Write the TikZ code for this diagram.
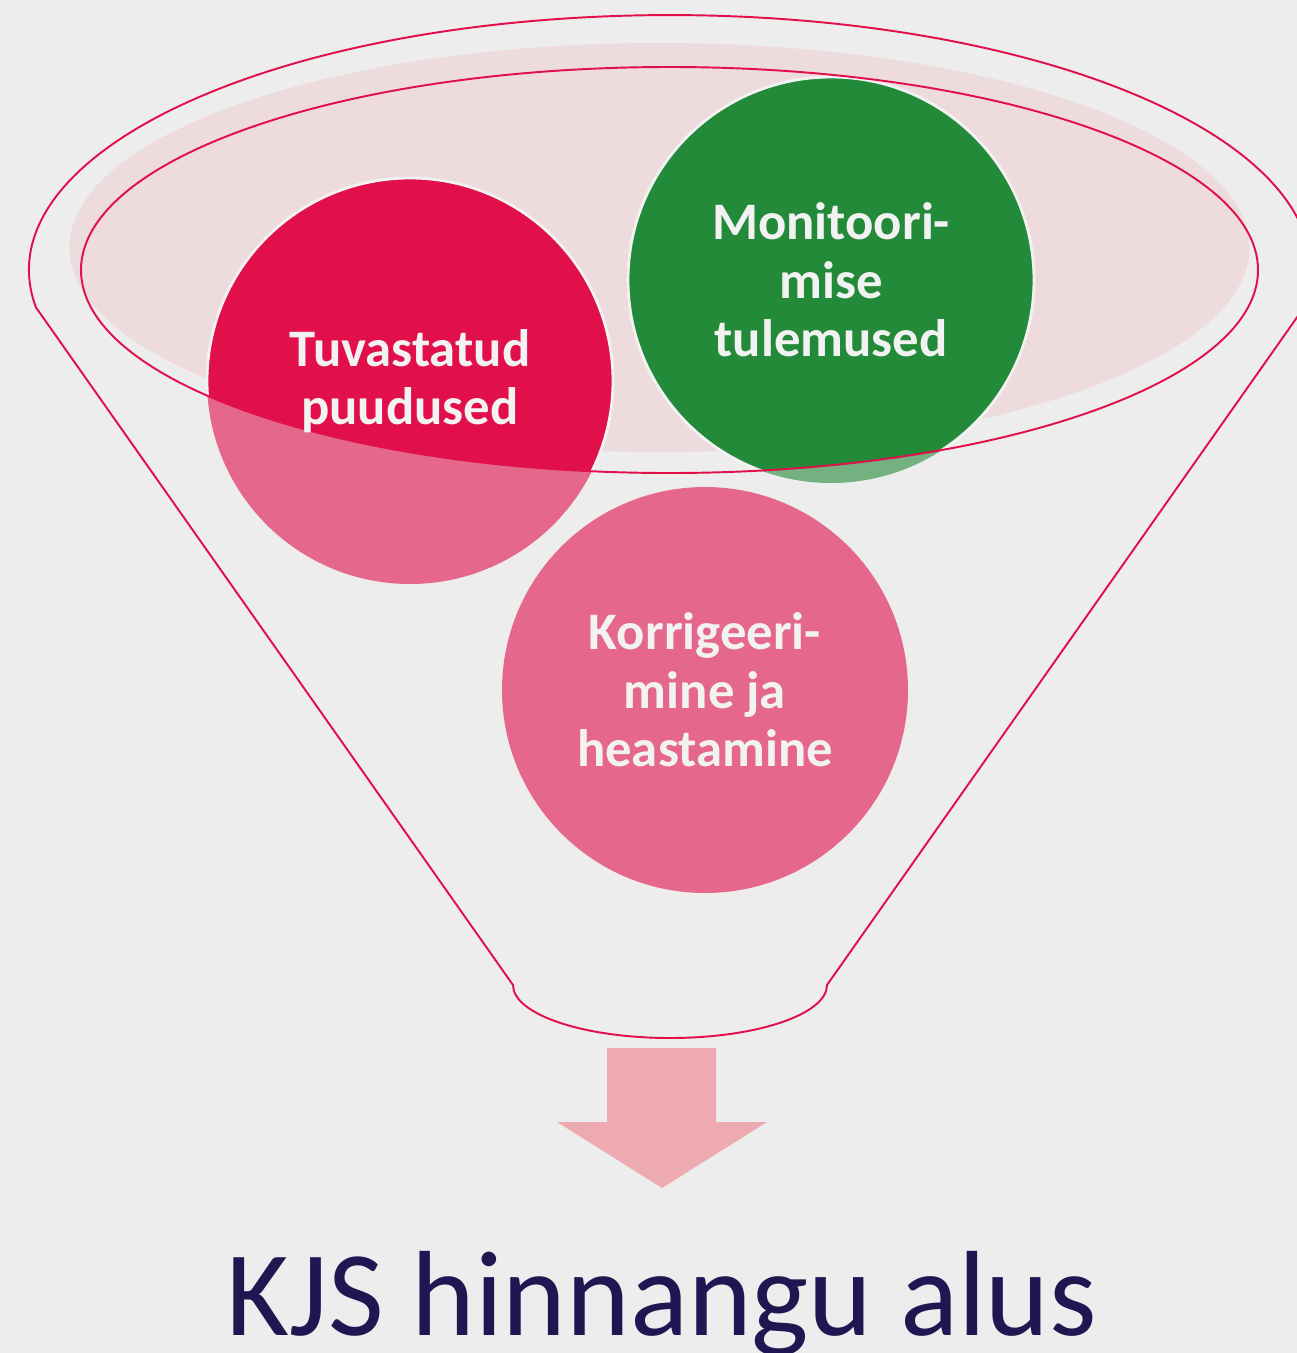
\documentclass[tikz,border=0pt]{standalone}
\usepackage{fontspec}
\setmainfont{Carlito}
\definecolor{bg}{HTML}{EDEDED}
\definecolor{fred}{HTML}{E10F4A}
\definecolor{fgreen}{HTML}{228A38}
\definecolor{pinkfill}{HTML}{EDDBDD}
\definecolor{arrowpink}{HTML}{EDAAB0}
\definecolor{navy}{HTML}{201652}
\definecolor{txt}{HTML}{F2F2F2}
\tikzset{
  funnelline/.style={draw=fred, line width=1.1pt},
  circtext/.style={text=txt, align=center, font=\bfseries\fontsize{30}{33.3}\selectfont, inner sep=0pt},
  circborder/.style={draw=txt, line width=1.6pt},
}
\begin{document}
\begin{tikzpicture}[x=0.02cm, y=0.02cm]
\fill[bg] (0,0) rectangle (1297,-1353);
\useasboundingbox (0,0) rectangle (1297,-1353);
% centers
\coordinate (c1) at (410,-381);
\coordinate (c2) at (831,-280);
\coordinate (c3) at (705,-690);
% outer funnel
\draw[funnelline] (35.9,-307.3) arc[start angle=188.4, end angle=-8.4, x radius=641, y radius=255]
  -- (827,-985) arc[start angle=0, end angle=-180, x radius=157, y radius=53] -- cycle;
% filled ellipse
\fill[pinkfill] (659.5,-247.5) ellipse [x radius=590, y radius=204.5];
% translucent circles
\fill[fred, opacity=0.6] (c1) circle[radius=203];
\fill[fgreen, opacity=0.6] (c2) circle[radius=203];
\fill[fred, opacity=0.6] (c3) circle[radius=203];
% opaque parts inside inner ellipse
\begin{scope}
  \clip (669.5,-270) ellipse [x radius=588.5, y radius=203];
  \fill[fred, circborder] (c1) circle[radius=203];
  \fill[fgreen, circborder] (c2) circle[radius=203];
\end{scope}
% inner ellipse outline
\draw[funnelline] (669.5,-270) ellipse [x radius=588.5, y radius=203];
% texts
\node[circtext] (t1) at (c1) {Tuvastatud\\puudused};
\node[circtext] (t2) at (c2) {Monitoori-\\mise\\tulemused};
\node[circtext] (t3) at (c3) {Korrigeeri-\\mine ja\\heastamine};
% arrow
\coordinate (ar) at (662,-1048);
\fill[arrowpink] (607,-1048) -- (716,-1048) -- (716,-1122) -- (767,-1122) -- (662,-1188)
  -- (557,-1122) -- (607,-1122) -- cycle;
% title
\node[anchor=base, text=navy, font=\fontsize{69}{83}\selectfont, inner sep=0pt] (title) at (662,-1335) {KJS hinnangu alus};
\end{tikzpicture}
\end{document}
